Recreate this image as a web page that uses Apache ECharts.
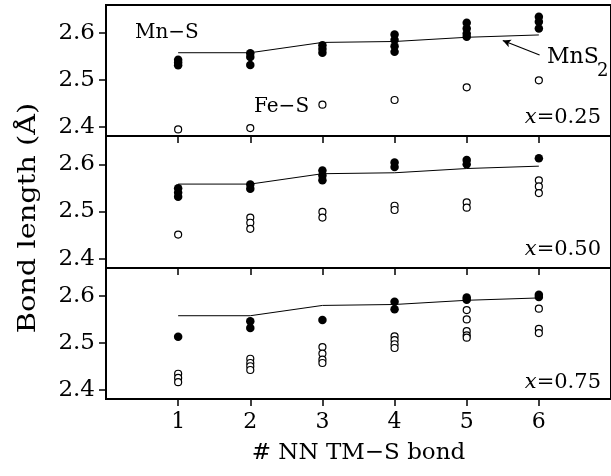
<!DOCTYPE html>
<html>
<head>
<meta charset="utf-8">
<script src="https://cdn.jsdelivr.net/npm/echarts@6/dist/echarts.min.js"></script>
<style>
html,body{margin:0;padding:0;background:#fff;}
#chart{width:611px;height:476px;}
</style>
</head>
<body>
<div id="chart"></div>
<script>
// ---- data ----
var nnBonds = [1, 2, 3, 4, 5, 6];
var xTicks = [1, 2, 3, 4, 5, 6];
var yTicks = [2.4, 2.5, 2.6];
var panelLabels = ['0.25', '0.50', '0.75'];

// reference MnS2 bond length (same in every panel)
var mnS2Line = [2.558, 2.558, 2.580, 2.582, 2.591, 2.596];

// x = 0.25
var mnS25 = [[2.543, 2.537, 2.531], [2.557, 2.549, 2.532], [2.574, 2.566, 2.558], [2.597, 2.585, 2.572, 2.560], [2.622, 2.610, 2.599, 2.592], [2.635, 2.624, 2.610]];
var feS25 = [[2.394], [2.397], [2.447], [2.457], [2.484], [2.499]];
// x = 0.50
var mnS50 = [[2.549, 2.540, 2.531], [2.557, 2.548], [2.587, 2.576, 2.566], [2.604, 2.594], [2.609, 2.600], [2.613]];
var feS50 = [[2.451], [2.487, 2.476, 2.463], [2.499, 2.487], [2.512, 2.503], [2.519, 2.508], [2.566, 2.553, 2.539]];
// x = 0.75
var mnS75 = [[2.513], [2.546, 2.532], [2.549], [2.588, 2.572], [2.597, 2.592], [2.603, 2.598]];
var feS75 = [[2.434, 2.425, 2.416], [2.466, 2.457, 2.450, 2.442], [2.491, 2.477, 2.464, 2.457], [2.514, 2.506, 2.497, 2.489], [2.570, 2.550, 2.525, 2.516, 2.511], [2.573, 2.530, 2.521]];

var mnSets = [mnS25, mnS50, mnS75];
var feSets = [feS25, feS50, feS75];

// ---- build ----
function pairs(groups) {
  var out = [];
  groups.forEach(function (vals, i) {
    vals.forEach(function (v) { out.push([nnBonds[i], v]); });
  });
  return out;
}
var FONT = 'DejaVu Serif';
var FS = 20;
var TICKFS = 23;
var panels = [{top: 5, height: 131}, {top: 136, height: 132}, {top: 268, height: 131}];

var grids = [], xAxes = [], yAxes = [], series = [];
panels.forEach(function (p, k) {
  grids.push({left: 106, width: 509, top: p.top, height: p.height, show: true, borderColor: '#000', borderWidth: 2, containLabel: false});
  xAxes.push({
    type: 'value', gridIndex: k, min: 0, max: 7, interval: 1,
    axisLine: {show: true, lineStyle: {color: '#000', width: 2}},
    axisTick: {show: true, inside: false, length: 7, customValues: xTicks, lineStyle: {color: '#000', width: 1.5}},
    axisLabel: {show: k === 2, customValues: xTicks, margin: 12, color: '#000', fontFamily: FONT, fontSize: 22},
    splitLine: {show: false},
    name: k === 2 ? '# NN TM\u2212S bond' : '',
    nameLocation: 'middle', nameGap: 43,
    nameTextStyle: {color: '#000', fontFamily: FONT, fontSize: 23}
  });
  yAxes.push({
    type: 'value', gridIndex: k, min: 2.38, max: 2.66,
    axisLine: {show: true, lineStyle: {color: '#000', width: 2}},
    axisTick: {show: true, inside: false, length: 7, customValues: yTicks, lineStyle: {color: '#000', width: 1.5}},
    axisLabel: {show: true, customValues: yTicks, margin: 11, color: '#000', fontFamily: FONT, fontSize: TICKFS,
      formatter: function (v) { return v.toFixed(1); }},
    splitLine: {show: false}
  });
  var lineSeries = {
    type: 'line', xAxisIndex: k, yAxisIndex: k, symbol: 'none', silent: true,
    lineStyle: {color: '#000', width: 1},
    data: nnBonds.map(function (x, i) { return [x, mnS2Line[i]]; }),
    z: 1
  };
  if (k === 0) {
    lineSeries.markLine = {
      silent: true, symbol: ['none', 'arrow'], symbolSize: [6, 8],
      lineStyle: {color: '#000', width: 1.2, type: 'solid'},
      label: {show: false},
      data: [[{coord: [6.01, 2.553]}, {coord: [5.50, 2.584]}]]
    };
  }
  series.push(lineSeries);
  series.push({
    type: 'scatter', xAxisIndex: k, yAxisIndex: k, symbol: 'circle', symbolSize: 7,
    itemStyle: {color: '#fff', borderColor: '#000', borderWidth: 1.2, opacity: 1},
    data: pairs(feSets[k]), z: 2
  });
  series.push({
    type: 'scatter', xAxisIndex: k, yAxisIndex: k, symbol: 'circle', symbolSize: 8.5,
    itemStyle: {color: '#000', opacity: 1},
    data: pairs(mnSets[k]), z: 3
  });
});

var txt = {fill: '#000', fontFamily: FONT, fontSize: FS};
function T(o) { return Object.assign({}, txt, o); }
var graphic = [
  {type: 'text', x: 29, y: 218, rotation: Math.PI / 2, scaleX: 1.2, style: T({text: 'Bond length (\u00C5)', fontSize: 24, align: 'center', verticalAlign: 'middle'})},
  {type: 'text', x: 135, y: 33, style: T({text: 'Mn\u2212S', align: 'left', verticalAlign: 'middle'})},
  {type: 'text', x: 254, y: 107, style: T({text: 'Fe\u2212S', align: 'left', verticalAlign: 'middle'})},
  {type: 'text', x: 547, y: 57, style: T({text: 'MnS', fontSize: 22, align: 'left', verticalAlign: 'middle'})},
  {type: 'text', x: 597, y: 71, style: T({text: '2', align: 'left', verticalAlign: 'middle', fontSize: 18})}
];
var labelYs = [118, 250, 383];
panelLabels.forEach(function (lab, k) {
  graphic.push({type: 'text', x: 601, y: labelYs[k], style: {
    text: '{i|x}{n|=' + lab + '}', align: 'right', verticalAlign: 'middle',
    rich: {i: {fontFamily: FONT, fontSize: 21, fontStyle: 'italic', fill: '#000', color: '#000'},
           n: {fontFamily: FONT, fontSize: 21, fill: '#000', color: '#000'}}
  }});
});

var chart = echarts.init(document.getElementById('chart'), null, {renderer: 'canvas'});
chart.setOption({
  animation: false,
  backgroundColor: '#fff',
  grid: grids, xAxis: xAxes, yAxis: yAxes, series: series, graphic: graphic
});
</script>
</body>
</html>
